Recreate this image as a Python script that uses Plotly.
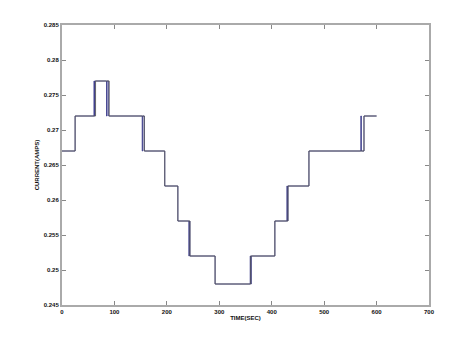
import plotly.graph_objects as go

# Reference (commanded) current, step changes
t_ref = [0, 25, 64, 90, 157, 196, 221, 244, 292, 360, 406, 431, 471, 576, 600]
i_ref = [0.267, 0.272, 0.277, 0.272, 0.267, 0.262, 0.257, 0.252, 0.248, 0.252,
         0.257, 0.262, 0.267, 0.272, 0.272]

# Measured current with chattering around transitions
t_meas = [0, 25, 61, 62, 63, 85, 86, 89, 153, 154, 157, 196, 221, 242, 243, 244,
          292, 359, 360, 361, 406, 429, 430, 431, 471, 570, 571, 576, 600]
i_meas = [0.267, 0.272, 0.277, 0.272, 0.277, 0.272, 0.277, 0.272, 0.267, 0.272,
          0.267, 0.262, 0.257, 0.252, 0.257, 0.252, 0.248, 0.252, 0.248, 0.252,
          0.257, 0.262, 0.257, 0.262, 0.267, 0.272, 0.267, 0.272, 0.272]

x_ticks = [0, 100, 200, 300, 400, 500, 600, 700]
y_ticks = [0.245, 0.25, 0.255, 0.26, 0.265, 0.27, 0.275, 0.28, 0.285]

font = dict(family="Liberation Sans Narrow, Arial Narrow, Liberation Sans, sans-serif",
            size=6, color="#111")

fig = go.Figure()
fig.add_trace(go.Scatter(x=t_meas, y=i_meas, mode="lines", line_shape="hv",
                         line=dict(color="#3a3a8a", width=0.9), showlegend=False))
fig.add_trace(go.Scatter(x=t_ref, y=i_ref, mode="lines", line_shape="hv",
                         line=dict(color="#555555", width=0.8), showlegend=False))

axis_common = dict(showgrid=False, zeroline=False, showline=True, linecolor="#aaaaaa",
                   linewidth=2, mirror="ticks", ticks="inside", ticklen=4,
                   tickcolor="#888888", tickwidth=1, tickfont=dict(font, weight="bold"))

fig.update_xaxes(range=[0, 700], tickvals=x_ticks,
                 ticktext=[str(v) for v in x_ticks],
                 title=dict(text="<b>TIME(SEC)</b>", font=font, standoff=2),
                 **axis_common)
fig.update_yaxes(range=[0.245, 0.285], tickvals=y_ticks,
                 ticktext=[f"{v:g}" for v in y_ticks],
                 title=dict(text="<b>CURRENT(AMPS)</b>", font=font, standoff=4),
                 **axis_common)

fig.update_layout(width=474, height=343, margin=dict(l=62, r=45, t=25, b=38),
                  plot_bgcolor="white", paper_bgcolor="white", font=font)

fig.write_html("out.html")
